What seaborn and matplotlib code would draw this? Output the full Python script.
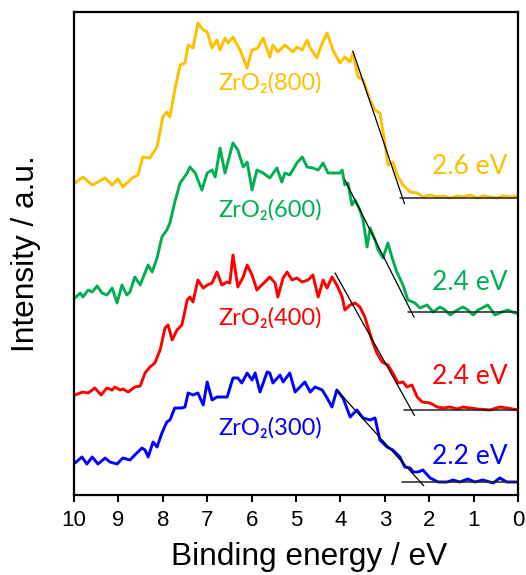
import matplotlib
matplotlib.use("Agg")
import matplotlib.pyplot as plt
import pandas as pd
import seaborn as sns

# Valence-band XPS spectra of ZrO2 calcined at different temperatures (stacked)
samples = ["ZrO₂(800)", "ZrO₂(600)", "ZrO₂(400)", "ZrO₂(300)"]
colors = ["#FFC000", "#00B050", "#FF0000", "#0000FF"]

energy_800 = [9.98, 9.80, 9.59, 9.46, 9.30, 9.14, 9.01, 8.90, 8.69, 8.56,
              8.45, 8.29, 8.13, 8.00, 7.91, 7.84, 7.73, 7.61, 7.50, 7.43,
              7.32, 7.21, 7.09, 7.00, 6.89, 6.78, 6.71, 6.60, 6.53, 6.42,
              6.26, 6.10, 5.99, 5.86, 5.74, 5.59, 5.52, 5.41, 5.25, 5.07,
              4.98, 4.86, 4.75, 4.68, 4.53, 4.41, 4.30, 4.17, 4.01, 3.90,
              3.78, 3.72, 3.60, 3.49, 3.33, 3.22, 3.11, 3.00, 2.93, 2.82,
              2.70, 2.59, 2.43, 2.27, 2.14, 1.98, 1.82, 1.69, 1.53, 1.37,
              1.24, 1.08, 0.92, 0.79, 0.63, 0.47, 0.34, 0.18, 0.00]
intensity_800 = [312, 318, 310, 313, 317, 310, 316, 308, 317, 320,
                 338, 337, 348, 378, 383, 378, 405, 430, 432, 450,
                 447, 472, 465, 463, 447, 455, 445, 457, 452, 458,
                 445, 427, 445, 447, 457, 438, 450, 443, 450, 443,
                 448, 445, 455, 447, 437, 452, 462, 445, 432, 438,
                 433, 442, 418, 415, 395, 385, 382, 352, 330, 333,
                 318, 310, 303, 302, 298, 300, 298, 299, 297, 299,
                 298, 300, 297, 299, 298, 297, 299, 298, 299]

energy_600 = [9.98, 9.86, 9.80, 9.68, 9.59, 9.48, 9.37, 9.26, 9.14, 9.03,
              8.92, 8.81, 8.74, 8.63, 8.51, 8.33, 8.24, 8.13, 8.02, 7.91,
              7.84, 7.73, 7.61, 7.45, 7.39, 7.27, 7.12, 7.00, 6.89, 6.82,
              6.71, 6.60, 6.42, 6.31, 6.19, 6.10, 5.99, 5.88, 5.74, 5.59,
              5.43, 5.32, 5.25, 5.14, 4.98, 4.86, 4.75, 4.62, 4.50, 4.39,
              4.28, 4.17, 4.01, 3.96, 3.90, 3.83, 3.74, 3.67, 3.56, 3.49,
              3.40, 3.33, 3.22, 3.15, 3.04, 2.93, 2.84, 2.73, 2.59, 2.48,
              2.32, 2.21, 2.05, 1.91, 1.76, 1.64, 1.53, 1.37, 1.24, 1.13,
              1.01, 0.90, 0.68, 0.52, 0.36, 0.23, 0.07, 0.00]
intensity_600 = [197, 202, 198, 205, 203, 209, 202, 200, 207, 192,
                 210, 200, 203, 218, 210, 230, 223, 237, 258, 265,
                 272, 293, 312, 322, 328, 322, 305, 322, 325, 318,
                 347, 322, 352, 345, 328, 333, 305, 325, 322, 317,
                 327, 313, 322, 320, 332, 338, 328, 327, 325, 332,
                 322, 322, 322, 325, 310, 312, 290, 295, 285, 275,
                 248, 267, 255, 245, 237, 252, 238, 223, 210, 195,
                 192, 187, 190, 183, 188, 185, 180, 185, 188, 185,
                 180, 185, 190, 180, 183, 185, 182, 182]

energy_400 = [9.98, 9.80, 9.68, 9.53, 9.39, 9.26, 9.14, 9.08, 8.96, 8.90,
              8.78, 8.63, 8.51, 8.40, 8.29, 8.18, 8.06, 7.95, 7.88, 7.79,
              7.68, 7.57, 7.45, 7.39, 7.32, 7.21, 7.09, 7.00, 6.89, 6.78,
              6.67, 6.55, 6.49, 6.42, 6.31, 6.19, 6.10, 5.99, 5.88, 5.77,
              5.59, 5.47, 5.41, 5.29, 5.20, 5.09, 4.98, 4.86, 4.73, 4.62,
              4.50, 4.39, 4.30, 4.19, 4.08, 3.96, 3.90, 3.78, 3.67, 3.56,
              3.45, 3.29, 3.18, 3.06, 2.93, 2.82, 2.70, 2.59, 2.50, 2.39,
              2.27, 2.16, 1.98, 1.82, 1.69, 1.53, 1.37, 1.24, 1.08, 0.92,
              0.63, 0.41, 0.25, 0.00]
intensity_400 = [100, 103, 102, 107, 100, 107, 105, 108, 105, 106,
                 103, 108, 109, 122, 128, 132, 145, 167, 170, 155,
                 165, 170, 195, 198, 193, 215, 207, 210, 212, 223,
                 210, 213, 212, 240, 208, 218, 230, 220, 205, 210,
                 218, 212, 198, 217, 223, 215, 217, 213, 215, 220,
                 198, 215, 207, 218, 210, 198, 185, 190, 192, 188,
                 178, 155, 142, 133, 130, 122, 112, 113, 108, 110,
                 98, 93, 92, 88, 87, 88, 86, 88, 87, 86,
                 85, 88, 87, 85]

energy_300 = [9.98, 9.82, 9.71, 9.59, 9.46, 9.30, 9.19, 9.03, 8.90, 8.74,
              8.63, 8.47, 8.40, 8.33, 8.22, 8.13, 8.02, 7.91, 7.84, 7.73,
              7.57, 7.50, 7.43, 7.32, 7.21, 7.09, 7.00, 6.89, 6.78, 6.55,
              6.42, 6.31, 6.22, 6.10, 5.99, 5.92, 5.81, 5.65, 5.59, 5.52,
              5.36, 5.29, 5.14, 5.02, 4.91, 4.80, 4.68, 4.57, 4.41, 4.30,
              4.19, 4.08, 3.94, 3.78, 3.63, 3.49, 3.33, 3.22, 3.11, 2.95,
              2.82, 2.66, 2.55, 2.43, 2.36, 2.25, 2.14, 1.98, 1.80, 1.60,
              1.46, 1.31, 1.13, 0.97, 0.79, 0.56, 0.41, 0.25, 0.00]
intensity_300 = [32, 38, 31, 38, 31, 37, 33, 31, 37, 35,
                 40, 47, 45, 38, 53, 48, 62, 73, 75, 87,
                 87, 88, 102, 100, 102, 90, 113, 95, 98, 98,
                 117, 117, 112, 122, 115, 122, 103, 123, 122, 112,
                 120, 113, 122, 103, 108, 113, 103, 108, 105, 97,
                 88, 105, 97, 78, 85, 77, 75, 77, 55, 48,
                 45, 38, 28, 27, 23, 23, 25, 17, 13, 13,
                 15, 13, 16, 13, 15, 12, 17, 13, 13]

# Valence-band edge extrapolation: leading-edge tangent and flat background
onset_ev = [2.6, 2.4, 2.4, 2.2]
tangent_top_ev = [3.72, 3.90, 4.12, 4.08]
tangent_top_intensity = [444, 315, 222, 105]
background_level = [297, 183, 85, 13]
background_from_ev = [2.65, 2.48, 2.57, 2.61]

energies = [energy_800, energy_600, energy_400, energy_300]
intensities = [intensity_800, intensity_600, intensity_400, intensity_300]

frames = []
for name, e, y in zip(samples, energies, intensities):
    assert len(e) == len(y)
    frames.append(pd.DataFrame({"energy": e, "intensity": y, "sample": name}))
df = pd.concat(frames, ignore_index=True)

sns.set_theme(style="ticks")
plt.rcParams["font.family"] = ["Liberation Sans", "DejaVu Sans"]

fig = plt.figure(figsize=(5.26, 5.75), dpi=100)
ax = fig.add_axes([74 / 526, 80 / 575, 444 / 526, 483 / 575])

sns.lineplot(data=df, x="energy", y="intensity", hue="sample",
             palette=dict(zip(samples, colors)), hue_order=samples,
             estimator=None, sort=False, units="sample",
             linewidth=2.1, legend=False, ax=ax)

for i in range(len(samples)):
    e_top, i_top = tangent_top_ev[i], tangent_top_intensity[i]
    e0, b = onset_ev[i], background_level[i]
    ext = 1.04
    ax.plot([e_top, e_top + (e0 - e_top) * ext],
            [i_top, i_top + (b - i_top) * ext],
            color="black", lw=0.9, zorder=5)
    ax.plot([background_from_ev[i], 0.0], [b, b],
            color="#222222", lw=1.1, zorder=5)

label_font = ["Lato", "DejaVu Sans"]
name_y = [412, 285, 177, 67]
onset_y = [328, 212, 119, 38]
for i, name in enumerate(samples):
    ax.text(5.59, name_y[i], name, color=colors[i], fontsize=17,
            family=label_font, ha="center", va="center")
    ax.text(1.08, onset_y[i], f"{onset_ev[i]:.1f} eV", color=colors[i],
            fontsize=19, family=label_font, ha="center", va="center")

ax.set_xlim(10, 0)
ax.set_ylim(0, 483)
ax.set_xticks(range(10, -1, -1))
ax.set_yticks([])
ax.tick_params(axis="x", direction="out", length=5, width=1.5,
               labelsize=16, pad=6, colors="black")
for side in ["left", "right", "top", "bottom"]:
    ax.spines[side].set_visible(True)
    ax.spines[side].set_linewidth(1.6)
    ax.spines[side].set_color("black")

ax.set_xlabel("Binding energy / eV", fontsize=22.8, color="black")
ax.set_ylabel("Intensity / a.u.", fontsize=22.8, color="black")
ax.xaxis.set_label_coords(0.53, -0.097)
ax.yaxis.set_label_coords(-0.074, 0.5)

fig.savefig("out.png", dpi=100, facecolor="white")
